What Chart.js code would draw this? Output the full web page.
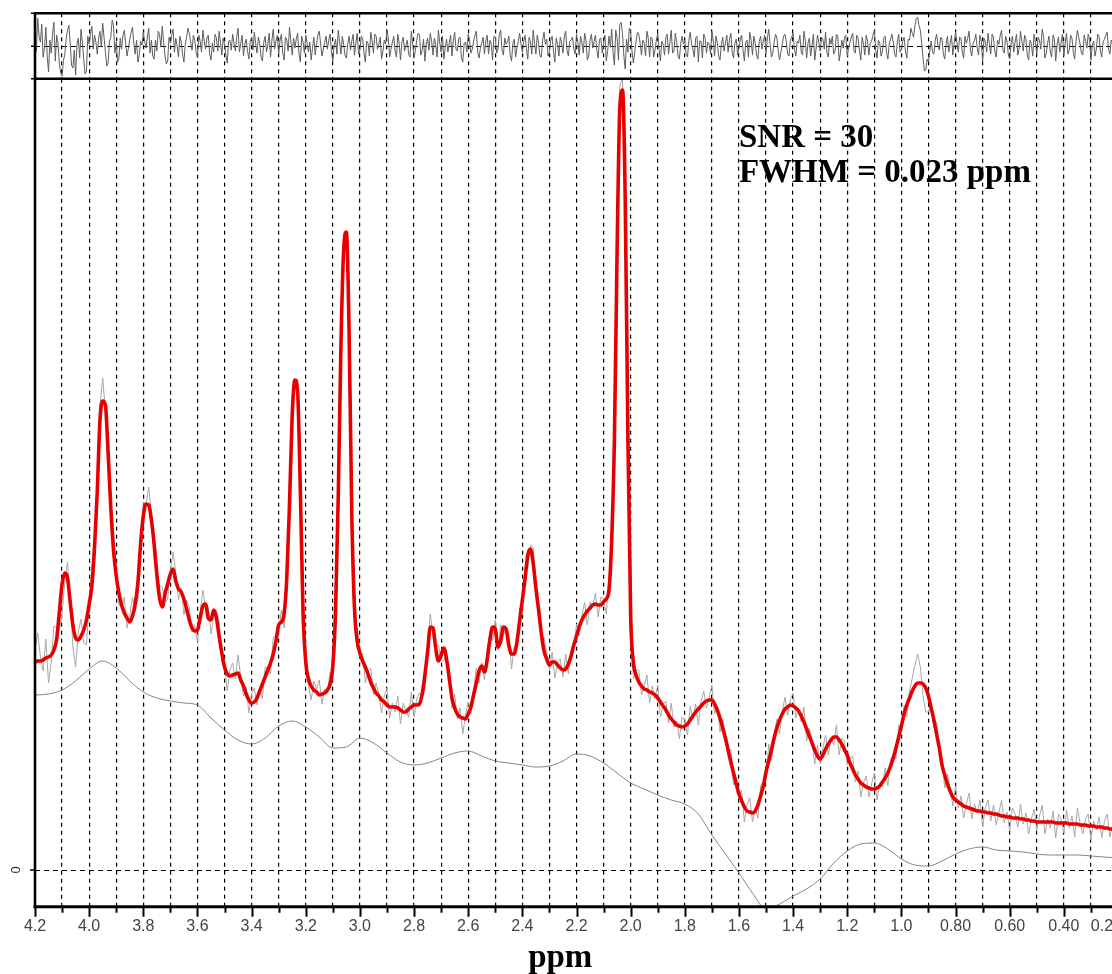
<!DOCTYPE html>
<html>
<head>
<meta charset="utf-8">
<script src="https://cdn.jsdelivr.net/npm/chart.js@4.4.1/dist/chart.umd.min.js"></script>
<style>
  html, body { margin: 0; padding: 0; background: #fff; overflow: hidden; }
  #wrap { position: relative; width: 1112px; height: 974px; overflow: hidden; background: #fff; }
  #resid, #main { position: absolute; left: 0; top: 0; }
</style>
</head>
<body>
<div id="wrap">
  <canvas id="resid" width="1160" height="82"></canvas>
  <canvas id="main" width="1160" height="974"></canvas>
</div>
<script>
// ---- chemical-shift axis (ppm, drawn high to low) ----
const PPM_HIGH = 4.2;
const PPM_LOW = 0.2;
const PPM_STEP = 0.01;          // spacing of the spectrum samples
const BASELINE_STEP = 0.05;     // spacing of the baseline samples

const majorTicks  = [4.2, 4.0, 3.8, 3.6, 3.4, 3.2, 3.0, 2.8, 2.6, 2.4, 2.2, 2.0, 1.8, 1.6, 1.4, 1.2, 1.0, 0.8, 0.6, 0.4, 0.2];
const majorLabels = ['4.2','4.0','3.8','3.6','3.4','3.2','3.0','2.8','2.6','2.4','2.2','2.0','1.8','1.6','1.4','1.2','1.0','0.80','0.60','0.40','0.20'];
const axisTitle = 'ppm';
const zeroLabel = '0';

// ---- fitted spectrum (a.u.), 4.20 -> 0.20 ppm every 0.01 ppm ----
const fit = [
  20.8, 20.9, 20.9, 21.0, 21.2, 21.3, 21.5, 22.0, 23.1, 25.8, 28.6, 29.7, 29.2, 26.8, 24.5, 23.2, 23.0, 23.4, 24.0, 25.0,
  26.6, 28.4, 32.3, 37.9, 45.0, 46.9, 46.5, 41.8, 36.2, 32.0, 29.4, 27.7, 26.5, 25.7, 25.2, 24.8, 25.4, 26.6, 28.7, 32.6,
  35.4, 36.6, 36.5, 35.0, 32.6, 29.6, 27.2, 26.3, 27.6, 28.6, 29.6, 30.1, 28.9, 28.1, 27.8, 27.1, 26.1, 25.0, 24.2, 23.9,
  24.0, 25.2, 26.4, 26.6, 25.2, 25.0, 26.0, 25.2, 23.4, 21.7, 20.3, 19.6, 19.4, 19.5, 19.6, 19.7, 19.0, 18.4, 17.6, 17.0,
  16.7, 16.8, 17.2, 17.9, 18.6, 19.3, 20.0, 20.7, 21.6, 22.9, 24.5, 24.8, 25.6, 29.2, 36.6, 45.5, 49.0, 47.8, 38.0, 25.8,
  20.8, 19.1, 18.4, 18.0, 17.8, 17.5, 17.6, 17.7, 18.0, 18.6, 20.4, 25.8, 37.3, 52.5, 62.0, 63.8, 54.0, 35.7, 26.2, 22.9,
  21.7, 20.9, 20.3, 19.6, 18.8, 18.2, 17.7, 17.4, 17.0, 16.8, 16.5, 16.3, 16.3, 16.3, 16.2, 16.0, 15.8, 15.8, 16.1, 16.3,
  16.5, 16.5, 16.6, 17.6, 19.5, 21.8, 24.3, 24.2, 22.2, 20.9, 21.5, 22.2, 21.1, 19.2, 17.2, 16.2, 15.6, 15.3, 15.2, 15.1,
  15.6, 16.3, 17.5, 18.7, 19.9, 20.4, 19.8, 21.0, 23.0, 24.3, 24.1, 22.3, 22.9, 24.3, 24.1, 22.5, 21.6, 21.6, 22.8, 24.9,
  27.0, 29.1, 31.5, 32.1, 30.7, 28.2, 26.0, 23.7, 21.9, 21.1, 20.5, 20.8, 20.8, 20.5, 20.2, 20.0, 20.1, 20.6, 21.4, 22.5,
  23.4, 24.3, 25.0, 25.5, 25.9, 26.2, 26.5, 26.6, 26.5, 26.5, 26.8, 27.1, 28.0, 33.0, 43.0, 62.0, 76.2, 78.0, 67.0, 43.0,
  25.5, 20.8, 19.5, 18.8, 18.4, 18.1, 18.0, 17.8, 17.7, 17.5, 17.2, 16.8, 16.4, 16.0, 15.5, 15.1, 14.8, 14.5, 14.4, 14.3,
  14.4, 14.6, 15.0, 15.4, 15.8, 16.1, 16.4, 16.7, 16.9, 17.0, 17.0, 16.6, 16.0, 15.2, 14.2, 13.2, 12.0, 10.8, 9.7, 8.6,
  7.6, 6.9, 6.3, 5.9, 5.8, 5.7, 5.9, 6.5, 7.4, 8.4, 9.8, 10.9, 12.0, 13.2, 14.2, 15.0, 15.6, 16.1, 16.3, 16.5,
  16.4, 16.2, 15.9, 15.4, 14.8, 14.1, 13.4, 12.7, 12.0, 11.4, 11.1, 11.5, 12.1, 12.6, 13.0, 13.3, 13.3, 13.0, 12.6, 12.0,
  11.5, 10.7, 10.1, 9.5, 9.1, 8.7, 8.5, 8.3, 8.2, 8.1, 8.1, 8.2, 8.4, 8.8, 9.2, 9.7, 10.4, 11.2, 12.2, 13.3,
  14.4, 15.6, 16.5, 17.2, 17.9, 18.4, 18.7, 18.7, 18.6, 18.2, 17.4, 16.2, 15.0, 13.6, 12.2, 10.5, 9.5, 8.6, 7.9, 7.3,
  7.0, 6.8, 6.6, 6.4, 6.3, 6.2, 6.1, 6.0, 5.9, 5.9, 5.8, 5.8, 5.7, 5.7, 5.6, 5.6, 5.5, 5.4, 5.4, 5.3,
  5.3, 5.2, 5.2, 5.2, 5.1, 5.1, 5.0, 5.0, 4.9, 4.9, 4.8, 4.8, 4.8, 4.8, 4.8, 4.8, 4.8, 4.7, 4.7, 4.7,
  4.7, 4.7, 4.6, 4.6, 4.6, 4.6, 4.5, 4.5, 4.5, 4.4, 4.4, 4.4, 4.3, 4.3, 4.3, 4.2, 4.2, 4.1, 4.1, 4.0, 4.0
];

// ---- fit residual (measured minus fit), same grid and units ----
const residual = [
  1.2, 2.8, 0.4, -1.1, 1.9, -2.6, -0.7, 2.4, 1.1, -1.8, -3.0, -0.9, 1.6, 0.3, -2.2, -2.9, 0.8, 1.7, -1.3, -2.5,
  0.2, 2.0, 1.1, -0.8, 1.5, 2.3, -0.6, -1.7, 0.9, 2.1, 0.4, -1.2, -0.3, 1.6, -1.0, 0.7, 1.9, -0.8, -1.6, 0.5,
  1.4, -0.2, 1.8, 0.6, -1.3, -0.5, 1.2, 2.0, -0.9, -1.5, 0.3, 1.7, 0.8, -1.1, 0.4, -1.6, 0.9, 1.3, -0.4, 0.6,
  -1.2, 0.5, 1.6, -0.3, 1.1, -1.4, -0.6, 0.8, 1.5, -0.9, 0.2, -1.7, 0.6, 1.2, -0.5, 1.8, 0.3, -1.0, 0.7, -1.3,
  0.9, 1.4, -0.7, 0.3, -1.5, 1.0, 0.2, -1.1, 1.7, 0.5, -0.8, 1.2, -1.4, 0.6, 1.9, -0.9, -0.2, 1.3, -1.6, 0.4,
  1.1, -0.6, -1.4, 0.9, 0.3, 1.5, -1.0, 0.4, -0.3, 1.2, -1.5, 0.7, 1.6, -0.8, 0.2, -1.2, 1.0, 0.5, -0.9, 1.3,
  -0.4, 0.8, -1.6, 0.3, 1.4, -0.7, 1.0, 0.2, -1.3, 0.6, 1.7, -1.1, 0.4, -0.5, 1.2, -1.4, 0.9, 0.1, -0.8, 1.5,
  -1.2, 0.6, 1.1, -0.4, -1.5, 0.8, 1.3, -0.9, 0.2, 1.6, -0.6, -1.3, 0.7, 0.3, -1.0, 1.4, -0.5, 0.9, -1.6, 0.4,
  1.2, -0.7, 0.5, 1.5, -1.2, 0.3, -0.8, 1.1, 0.6, -1.4, 0.9, -0.3, 1.6, -0.9, 0.2, 1.0, -1.5, 0.7, -0.2, 1.3,
  -0.6, 1.1, -1.3, 0.4, 1.6, -0.8, 0.3, -1.1, 1.4, 0.7, -0.5, 1.0, -1.6, 0.2, 0.9, -0.7, 1.5, -1.0, 0.6, -0.3,
  1.2, -0.9, 0.4, 1.3, -1.4, 0.6, -0.2, 1.1, -1.2, 0.8, 0.3, -1.5, 1.0, 1.7, -1.9, 0.8, 2.2, 1.2, -2.3, -0.6,
  1.4, -1.7, 0.5, 1.2, -0.9, 0.3, 1.5, -1.1, 0.7, -0.4, 1.3, -1.5, 0.2, 0.9, -0.8, 1.6, -0.5, 0.4, -1.3, 1.0,
  0.6, -1.1, 1.4, -0.3, 0.8, -1.6, 0.5, 1.2, -0.7, 0.2, 1.5, -1.0, 0.4, -1.4, 0.9, 0.3, -0.6, 1.3, -1.2, 0.7,
  -0.2, 1.1, -1.5, 0.6, 1.4, -0.9, 0.3, -1.3, 1.0, 0.5, -0.7, 1.7, -1.1, 0.4, 0.9, -1.4, 0.2, 1.2, -0.8, 0.6,
  1.3, -1.0, 0.3, -0.6, 1.5, -1.2, 0.8, 0.1, -1.4, 1.1, -0.5, 0.7, 1.4, -1.1, 0.2, -0.8, 1.2, -1.5, 0.6, 0.9,
  -1.0, 0.4, 1.3, -0.7, 0.8, -1.4, 0.2, 1.1, -0.9, 0.5, 1.6, -1.2, 0.3, -0.5, 1.0, -1.3, 0.7, 0.4, -1.1, 1.2,
  -0.3, 0.9, -1.2, 0.6, 1.3, 2.1, 2.9, 1.6, -1.2, -2.4, -1.6, 0.5, -0.8, 1.2, -0.4, 0.7, -1.3, 1.0, 0.3, -0.9,
  1.4, -0.6, 0.8, -1.2, 0.3, 1.5, -1.0, 0.6, -0.2, 1.1, -1.5, 0.4, 1.3, -0.8, 0.9, -1.1, 0.2, 1.6, -0.7, 0.5,
  -1.3, 1.0, 0.4, -0.9, 1.5, -0.5, 0.7, -1.4, 0.2, 1.2, -0.8, 0.6, 1.7, -1.2, 0.3, -0.6, 1.1, -1.5, 0.9, 0.4,
  -1.0, 1.3, -0.4, 0.8, -1.3, 1.6, 0.2, -0.9, 0.6, 1.2, -1.4, 0.5, -0.3, 1.0, -1.1, 0.7, 1.4, -0.8, 0.3, -1.2,
  0.6
];

// ---- residual between those samples (4.195 -> 0.205 ppm every 0.01 ppm) ----
const residualMid = [
  -0.5, 1.0, 2.2, -0.2, -0.9, 0.6, 1.3, -1.5, 0.3, -2.7, -1.4, 0.7, 2.1, -1.9, -0.4, 0.2, -1.2, 0.3, -2.8, 1.0,
  1.3, -0.3, 0.4, 0.8, -0.1, 0.9, -2.0, 0.5, 2.6, -0.7, -1.6, 0.8, 1.1, 0.2, -0.2, 1.4, 0.3, 0.6, -0.9, 0.1,
  0.5, 0.9, -0.7, -1.0, 0.6, 1.5, -0.1, 0.4, -1.8, 0.9, 1.1, -0.6, 0.0, 1.0, -0.8, 0.2, 1.8, 0.4, 1.1, -0.6,
  1.1, -0.6, 0.5, 0.8, -0.8, 0.3, 1.2, -0.5, 0.4, 0.8, -0.9, 0.5, -0.4, 0.3, 0.9, -0.6, 1.1, 0.2, -0.5, 0.5,
  -0.4, 0.3, 0.9, -1.1, 0.4, -0.6, 1.3, 0.6, -0.3, 1.1, 0.6, -0.7, 0.9, -0.5, 0.5, 0.8, 0.7, -0.8, 1.0, -0.7,
  0.3, 0.4, -0.2, -0.9, 1.1, 0.2, -0.3, 1.0, 0.6, -0.6, 0.1, -0.8, 0.5, 1.0, -0.9, 0.2, -0.4, 1.2, 0.3, -0.8,
  1.0, -0.7, 0.5, -1.0, 0.6, 1.2, -0.3, 0.9, -0.5, 0.2, 0.8, -0.3, 1.0, -1.1, 0.3, 0.4, -0.5, 0.6, -1.1, 0.2,
  -0.4, 1.3, -0.9, 0.7, 0.2, -0.4, 0.5, 0.8, -1.1, 0.3, 1.0, -0.2, -0.6, 1.1, 0.5, -0.3, 0.8, -1.2, 0.3, -0.6,
  0.6, -0.3, 1.1, -0.6, -0.2, 0.9, 0.5, -0.8, 0.2, 1.0, -0.7, 1.2, -0.4, 0.8, 0.4, -0.9, 0.3, -1.1, 0.5, 0.2,
  0.5, -0.2, 0.9, -0.8, 0.3, 1.1, -1.0, 0.6, 0.2, -1.0, 0.6, -0.5, 0.8, -1.0, 0.4, 1.0, -0.4, 0.5, 0.9, -0.8,
  0.4, 1.0, -0.7, 0.6, -1.0, 1.2, 0.5, -0.4, 0.7, -0.7, 1.1, -0.5, -0.1, -0.6, 1.6, -1.4, 2.4, -1.0, 0.7, 1.8,
  -0.5, -0.6, 1.4, 0.3, 0.6, -1.0, 0.8, 0.9, -1.1, 0.6, -0.4, 0.5, -0.9, 1.2, 0.4, -0.7, 1.3, -1.0, 0.3, 0.2,
  -0.8, 0.6, 0.2, -1.1, 1.0, 0.5, -1.2, 0.8, 0.4, -0.8, 0.6, 1.0, -1.0, 0.2, -0.5, 1.1, 0.7, -0.6, 0.3, -0.9,
  0.7, -0.4, 0.4, -1.1, 0.6, 1.0, -0.9, 0.5, -0.3, 1.1, 0.8, 0.2, -0.7, 1.2, -0.5, -0.6, 1.0, 0.4, -1.0, 0.9,
  -0.3, 0.5, 1.1, -0.9, 0.6, 0.3, -1.0, 1.2, -0.2, 0.4, 0.9, -0.3, -0.7, 0.8, 1.0, -0.5, 1.0, -0.6, -0.2, 1.1,
  -0.2, 0.9, -0.5, 1.1, -0.4, 0.9, -0.9, 0.5, 0.3, 1.1, -0.4, 0.6, -1.0, 0.8, -0.6, 0.2, 1.2, -0.8, 0.4, -0.6,
  0.5, -0.5, 0.7, 1.8, 0.9, 2.8, 2.1, 0.3, -2.5, -1.3, -0.4, -0.6, 0.6, 0.1, 0.9, -0.8, 0.2, -0.6, 1.1, 0.3,
  0.4, 0.9, -0.6, 1.0, 0.8, -0.4, 0.3, 1.2, -0.9, 0.5, 0.8, -0.6, 0.2, 1.2, -0.5, 0.6, 1.1, -0.4, 1.0, -0.9,
  0.3, -0.6, 1.2, -0.2, 0.5, 1.1, -0.9, 0.6, -1.0, 0.4, 0.9, -0.3, 1.0, -0.7, 1.0, -1.1, 0.7, 0.2, -0.6, 1.2,
  0.4, -0.8, 1.1, -0.6, 0.5, 0.9, -0.7, 1.1, -0.2, 0.6, 0.1, -1.0, 1.2, -0.5, 0.4, 1.1, -0.3, 0.6, -0.9, 1.0
];

// ---- estimated baseline, 4.20 -> 0.20 ppm every 0.05 ppm ----
const baseline = [
  17.5, 17.6, 18.0, 18.9, 20.1, 20.9, 20.2, 18.9, 17.8, 17.2,
  16.9, 16.7, 16.5, 15.2, 14.0, 13.0, 12.6, 13.2, 14.4, 14.9,
  14.3, 13.3, 12.2, 12.3, 13.2, 12.7, 11.7, 10.8, 10.5, 10.7,
  11.2, 11.7, 11.9, 11.4, 10.9, 10.7, 10.5, 10.3, 10.4, 10.9,
  11.6, 11.4, 10.7, 9.7, 8.7, 8.1, 7.5, 7.0, 6.6, 5.6,
  3.5, 1.6, -0.3, -2.3, -3.9, -3.4, -2.6, -1.9, -0.9, 0.7,
  1.9, 2.6, 2.7, 2.1, 1.1, 0.5, 0.4, 0.9, 1.6, 2.1,
  2.3, 2.0, 1.9, 1.8, 1.6, 1.5, 1.5, 1.5, 1.4, 1.3, 1.2
];

const annotationLines = ['SNR = 30', 'FWHM = 0.023 ppm'];

// ---- helpers ----
const ppmAt = (i, step, start = PPM_HIGH) => Math.round((start - i * step) * 1000) / 1000;
const gridTicks = [];
for (let k = 0; k <= Math.round((PPM_HIGH - PPM_LOW) / 0.1); k++) gridTicks.push(ppmAt(k, 0.1));
const majorIndex = v => majorTicks.findIndex(t => Math.abs(t - v) < 1e-6);

const fitPts = fit.map((v, i) => ({ x: ppmAt(i, PPM_STEP), y: v }));
// measured spectrum = fit + residual
const dataPts = fit.map((v, i) => ({ x: ppmAt(i, PPM_STEP), y: Math.round((v + residual[i]) * 100) / 100 }));
const residPts = residual.map((v, i) => ({ x: ppmAt(i, PPM_STEP), y: v }))
  .concat(residualMid.map((v, i) => ({ x: ppmAt(i, PPM_STEP, PPM_HIGH - PPM_STEP / 2), y: v })))
  .sort((a, b) => b.x - a.x);
const basePts = baseline.map((v, i) => ({ x: ppmAt(i, BASELINE_STEP), y: v }));

const LEFT = 35, RIGHT_PAD = 42;
const MAIN_TOP = 78.7, MAIN_BOTTOM = 906.7;
const SANS = '"Liberation Sans", Arial, sans-serif';
const SERIF = '"Liberation Serif", "Times New Roman", serif';

function xScaleBase(extra) {
  return Object.assign({
    type: 'linear', reverse: true, min: PPM_LOW, max: PPM_HIGH,
    afterBuildTicks: s => { s.ticks = gridTicks.map(v => ({ value: v })); },
    ticks: { display: false },
    grid: { color: '#000', lineWidth: 1.2, drawTicks: false },
    border: { display: false, dash: [4, 4] }
  }, extra);
}

// frame, axis ticks and labels, y label and annotation of the main panel
const mainDecor = {
  id: 'mainDecor',
  afterDraw(chart) {
    const { ctx, chartArea: a, scales: { x, y } } = chart;
    ctx.save();
    ctx.strokeStyle = '#000';
    // x tick marks
    ctx.lineWidth = 2;
    ctx.beginPath();
    gridTicks.forEach(v => {
      const px = Math.round(x.getPixelForValue(v)) + 0.5;
      const len = majorIndex(v) >= 0 ? 10 : 6;
      ctx.moveTo(px, a.bottom - 1); ctx.lineTo(px, a.bottom + len);
    });
    ctx.stroke();
    // x tick labels (the last one is kept inside the plot edge)
    ctx.fillStyle = '#444';
    ctx.font = '16px ' + SANS;
    ctx.textAlign = 'center'; ctx.textBaseline = 'middle';
    majorTicks.forEach((v, k) => {
      const t = majorLabels[k];
      const w = ctx.measureText(t).width;
      let cx = x.getPixelForValue(v);
      if (cx + w / 2 > a.right + 4) cx = a.right + 4 - w / 2;
      ctx.fillText(t, cx, a.bottom + 20);
    });
    // axis title
    ctx.fillStyle = '#000';
    ctx.font = 'bold 33px ' + SERIF;
    ctx.textBaseline = 'alphabetic';
    ctx.fillText(axisTitle, x.getPixelForValue(2.26), a.bottom + 60);
    // frame
    ctx.lineWidth = 2.6;
    ctx.beginPath();
    ctx.moveTo(a.left, a.top); ctx.lineTo(a.right + 10, a.top);
    ctx.moveTo(a.left, a.top); ctx.lineTo(a.left, a.bottom + 1.5);
    ctx.stroke();
    ctx.lineWidth = 3;
    ctx.beginPath();
    ctx.moveTo(a.left - 1.3, a.bottom); ctx.lineTo(a.right + 10, a.bottom);
    ctx.stroke();
    // y tick at zero and its label
    const y0 = y.getPixelForValue(0);
    ctx.lineWidth = 1.5;
    ctx.beginPath(); ctx.moveTo(a.left - 5, y0); ctx.lineTo(a.left, y0); ctx.stroke();
    ctx.fillStyle = '#333';
    ctx.font = '13px ' + SANS;
    ctx.textAlign = 'center'; ctx.textBaseline = 'middle';
    ctx.translate(a.left - 19, y0); ctx.rotate(-Math.PI / 2);
    ctx.fillText(zeroLabel, 0, 0);
    ctx.restore();
    // annotation
    ctx.save();
    ctx.fillStyle = '#000';
    ctx.font = 'bold 33px ' + SERIF;
    ctx.textAlign = 'left'; ctx.textBaseline = 'alphabetic';
    ctx.fillText(annotationLines[0], x.getPixelForValue(1.6), y.getPixelForValue(72.3));
    ctx.fillText(annotationLines[1], x.getPixelForValue(1.6), y.getPixelForValue(68.8));
    ctx.restore();
  }
};

const residDecor = {
  id: 'residDecor',
  afterDraw(chart) {
    const { ctx, chartArea: a, scales: { y } } = chart;
    ctx.save();
    ctx.strokeStyle = '#000';
    ctx.lineWidth = 2.6;
    ctx.beginPath();
    ctx.moveTo(a.left - 1.3, a.top); ctx.lineTo(a.right + 10, a.top);
    ctx.moveTo(a.left, a.top); ctx.lineTo(a.left, a.bottom);
    ctx.stroke();
    ctx.lineWidth = 1.5;
    ctx.beginPath();
    [a.top, y.getPixelForValue(0), a.bottom].forEach(py => { ctx.moveTo(a.left - 4, py); ctx.lineTo(a.left, py); });
    ctx.stroke();
    ctx.restore();
  }
};

function draw() {
  new Chart(document.getElementById('resid'), {
    type: 'line',
    data: { datasets: [{
      data: residPts, borderColor: '#5e5e5e', borderWidth: 1, pointRadius: 0, tension: 0
    }] },
    options: {
      responsive: false, animation: false, events: [],
      layout: { padding: { left: LEFT, right: RIGHT_PAD, top: 13.3, bottom: 0 } },
      plugins: { legend: { display: false }, tooltip: { enabled: false } },
      scales: {
        x: xScaleBase({ afterFit: s => { s.height = 82 - MAIN_TOP; } }),
        y: {
          min: -3.27, max: 3.3,
          afterBuildTicks: s => { s.ticks = [{ value: 0 }]; },
          afterFit: s => { s.width = 0; },
          ticks: { display: false },
          grid: { color: '#000', lineWidth: 1, drawTicks: false },
          border: { display: false, dash: [5, 4] }
        }
      }
    },
    plugins: [residDecor]
  });

  new Chart(document.getElementById('main'), {
    type: 'line',
    data: { datasets: [
      { label: 'fit', data: fitPts, borderColor: '#e60000', borderWidth: 3.6, pointRadius: 0,
        cubicInterpolationMode: 'monotone', order: 0 },
      { label: 'spectrum', data: dataPts, borderColor: '#a8a8a8', borderWidth: 1, pointRadius: 0,
        tension: 0, order: 1 },
      { label: 'baseline', data: basePts, borderColor: '#858585', borderWidth: 1, pointRadius: 0,
        cubicInterpolationMode: 'monotone', order: 2 }
    ] },
    options: {
      responsive: false, animation: false, events: [],
      layout: { padding: { left: LEFT, right: RIGHT_PAD, top: MAIN_TOP, bottom: 0 } },
      plugins: { legend: { display: false }, tooltip: { enabled: false } },
      scales: {
        x: xScaleBase({ afterFit: s => { s.height = 974 - MAIN_BOTTOM; } }),
        y: {
          min: -3.67, max: 79.13,
          afterBuildTicks: s => { s.ticks = [{ value: 0 }]; },
          afterFit: s => { s.width = 0; },
          ticks: { display: false },
          grid: { color: '#000', lineWidth: 1, drawTicks: false },
          border: { display: false, dash: [5, 4] }
        }
      }
    },
    plugins: [mainDecor]
  });
}

Promise.all([
  document.fonts.load('bold 33px "Liberation Serif"'),
  document.fonts.load('16px "Liberation Sans"')
]).then(draw, draw);
</script>
</body>
</html>
